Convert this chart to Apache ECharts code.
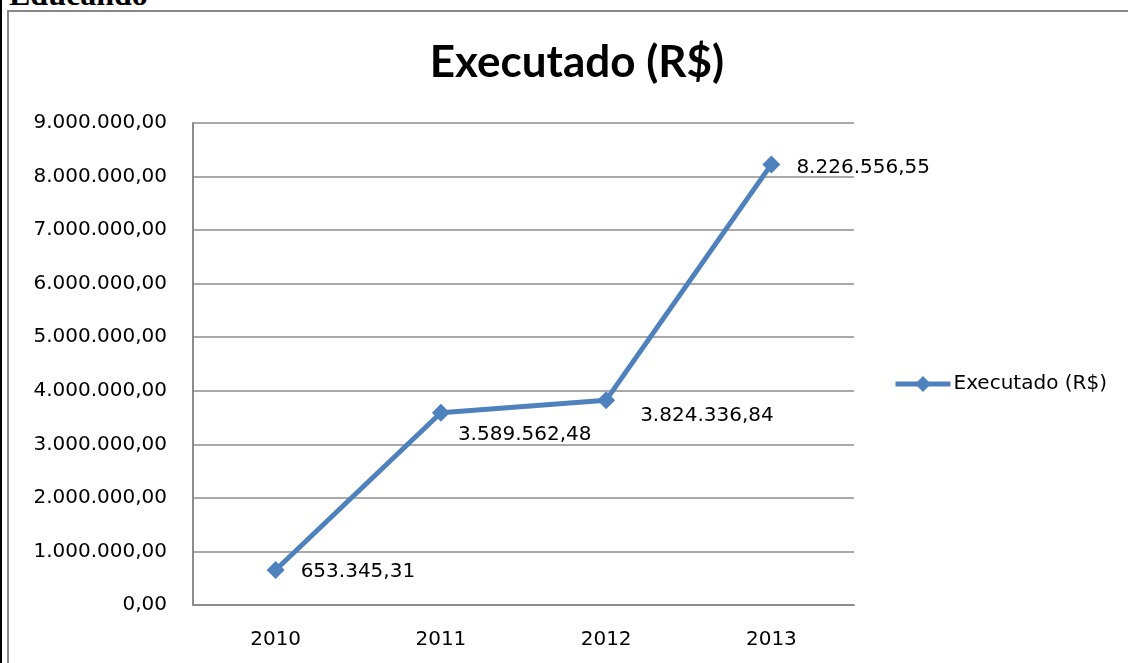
<!DOCTYPE html>
<html>
<head>
<meta charset="utf-8">
<script src="https://cdn.jsdelivr.net/npm/echarts@6/dist/echarts.min.js"></script>
<style>
  html, body { margin: 0; padding: 0; background: #fff; }
  body { width: 1128px; height: 663px; position: relative; overflow: hidden; }
  #edge { position: absolute; left: 0; top: 0; width: 2px; height: 663px; background: #000; }
  #heading { position: absolute; left: 9px; top: -22px; font: bold 32px/1 "Liberation Serif", serif; color: #000; }
  #frame { position: absolute; left: 7px; top: 10px; width: 1200px; height: 700px; border: 2px solid #888; box-sizing: border-box; }
  #chart { position: absolute; left: 0; top: 0; width: 1128px; height: 663px; }
</style>
</head>
<body>
<div id="edge"></div>
<div id="heading">Educando</div>
<div id="frame"></div>
<div id="chart"></div>
<script>
const years = ['2010', '2011', '2012', '2013'];
const executado = [653345.31, 3589562.48, 3824336.84, 8226556.55];
const seriesName = 'Executado (R$)';

const FONT = '"DejaVu Sans", sans-serif';
const BLUE = '#4f81bd';
const GRID = '#8c8c8c';

// pt-BR number format: 1.234.567,89
function brl(v) {
  const [int, dec] = Number(v).toFixed(2).split('.');
  return int.replace(/\B(?=(\d{3})+(?!\d))/g, '.') + ',' + dec;
}

// label nudges, Excel-style "right" placement
const labelOffsets = [[4, 2], [-4, 22], [13, 16], [4, 3]];

const chart = echarts.init(document.getElementById('chart'), null, { renderer: 'canvas' });
chart.setOption({
  animation: false,
  textStyle: { fontFamily: FONT },
  title: {
    text: 'Executado (R$)',
    left: 572,
    top: 36,
    textAlign: 'center',
    textStyle: { fontFamily: 'Lato, sans-serif', fontSize: 44, fontWeight: 'bold', color: '#000' },
  },
  grid: { left: 193, right: 274, top: 123, bottom: 58, containLabel: false },
  legend: {
    left: 893,
    top: 374,
    padding: 0,
    itemWidth: 55,
    itemHeight: 20,
    itemGap: 4,
    data: [seriesName],
    lineStyle: { width: 5 },
    textStyle: { fontFamily: FONT, fontSize: 20, color: '#000', padding: [0, 0, 0, -2] },
  },
  xAxis: {
    type: 'category',
    data: years,
    boundaryGap: true,
    axisLine: { lineStyle: { color: GRID, width: 2 } },
    axisTick: { show: false },
    axisLabel: { color: '#000', fontSize: 20, fontFamily: FONT, margin: 25 },
  },
  yAxis: {
    type: 'value',
    min: 0,
    max: 9000000,
    interval: 1000000,
    axisLine: { show: true, lineStyle: { color: GRID, width: 2 } },
    axisTick: { show: false },
    axisLabel: { color: '#000', fontSize: 20, fontFamily: FONT, margin: 26, formatter: brl },
    splitLine: { lineStyle: { color: GRID, width: 1.5 } },
  },
  series: [{
    name: seriesName,
    type: 'line',
    data: executado.map((v, i) => ({
      value: v,
      label: { offset: labelOffsets[i] },
    })),
    lineStyle: { color: BLUE, width: 5 },
    itemStyle: { color: BLUE },
    symbol: 'diamond',
    symbolSize: [18, 18],
    label: {
      show: true,
      position: 'right',
      distance: 12,
      fontSize: 20,
      fontFamily: FONT,
      color: '#000',
      formatter: (p) => brl(p.value),
    },
  }],
});
</script>
</body>
</html>
